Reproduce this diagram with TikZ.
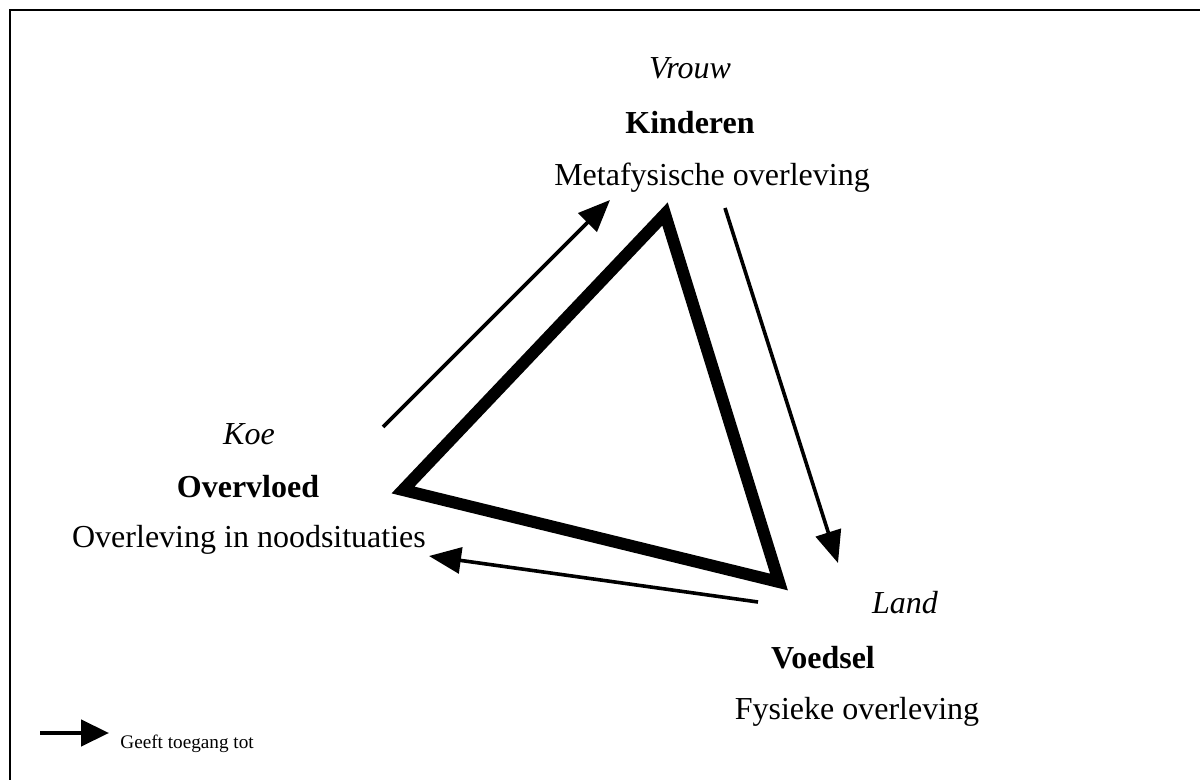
\documentclass[tikz,border=0pt]{standalone}
\usepackage{fontspec}
\setmainfont{Liberation Serif}
\usetikzlibrary{arrows.meta}
\tikzset{
  lbl/.style={font=\fontsize{16}{19}\selectfont, inner sep=0pt, anchor=center},
  flow/.style={line width=1.8pt, -{Triangle[length=16pt,width=13pt]}},
  tri/.style={line width=6pt, miter limit=10},
}
\begin{document}
\begin{tikzpicture}[x=0.5pt,y=-0.5pt]
\useasboundingbox (0,0) rectangle (1200,780);
% frame (only top and left edges inside the page)
\draw[line width=1pt] (10,800) -- (10,10.5) -- (1210,10.5);
% labels
\node[lbl] (vrouw) at (690,68) {\itshape Vrouw};
\node[lbl] (kind) at (690,123) {\bfseries Kinderen};
\node[lbl] (meta) at (712,178) {Metafysische overleving};
\node[lbl] (koe) at (249,434) {\itshape Koe};
\node[lbl] (overv) at (248,487) {\bfseries Overvloed};
\node[lbl] (nood) at (249,540) {Overleving in noodsituaties};
\node[lbl] (land) at (905,603) {\itshape Land};
\node[lbl] (voed) at (823,658) {\bfseries Voedsel};
\node[lbl] (fys) at (857,712) {Fysieke overleving};
% triangle
\coordinate (ta) at (665,214);
\coordinate (tb) at (403,490);
\coordinate (tc) at (779,582);
\draw[tri] (ta) -- (tb) -- (tc) -- cycle;
% arrows
\coordinate (a1s) at (383,427);
\coordinate (a1e) at (610,200);
\coordinate (a2s) at (725,208);
\coordinate (a2e) at (838,563);
\coordinate (a3s) at (758,602);
\coordinate (a3e) at (429,556);
\draw[flow] (a1s) -- (a1e);
\draw[flow] (a2s) -- (a2e);
\draw[flow] (a3s) -- (a3e);
% legend
\coordinate (ls) at (40,733);
\coordinate (le) at (109,733);
\draw[line width=2.2pt, -{Triangle[length=14pt,width=13pt]}] (ls) -- (le);
\node[font=\fontsize{9.6}{11}\selectfont, anchor=base west, inner sep=0pt] (leg) at (120,748) {Geeft toegang tot};
\end{tikzpicture}
\end{document}
